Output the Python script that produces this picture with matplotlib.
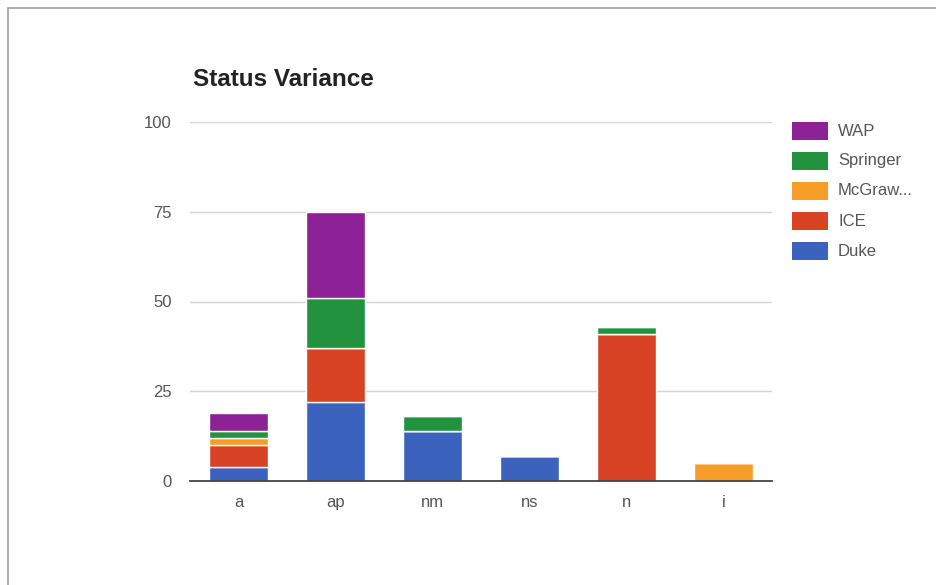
import matplotlib.pyplot as plt
import numpy as np
from matplotlib.patches import Rectangle

plt.rcParams['font.family'] = ['Liberation Sans', 'DejaVu Sans']

categories = ['a', 'ap', 'nm', 'ns', 'n', 'i']
series = ['Duke', 'ICE', 'McGraw...', 'Springer', 'WAP']
duke = [4, 22, 14, 7, 0, 0]
ice = [6, 15, 0, 0, 41, 0]
mcgraw = [2, 0, 0, 0, 0, 5]
springer = [2, 14, 4, 0, 2, 0]
wap = [5, 24, 0, 0, 0, 0]
colors = ['#3b63be', '#d84326', '#f59d26', '#23923e', '#8c2296']
yticks = [0, 25, 50, 75, 100]

W, H = 936, 585
fig = plt.figure(figsize=(W / 100, H / 100), dpi=100)
fig.patch.set_facecolor('white')

# outer frame of the page
fig.add_artist(Rectangle((8 / W, -0.01), 1.0, 1 - 8 / H + 0.01,
                         transform=fig.transFigure, fill=False,
                         edgecolor='#a0a0a0', linewidth=1.2))

ax = fig.add_axes([190 / W, 1 - 481 / H, 582 / W, 359 / H])
x = np.arange(len(categories))
bottom = np.zeros(len(categories))
for name, vals, c in zip(series, [duke, ice, mcgraw, springer, wap], colors):
    vals = np.array(vals, dtype=float)
    ax.bar(x, vals, 0.6, bottom=bottom, color=c, edgecolor='white',
           linewidth=1.0, zorder=3)
    bottom += vals

ax.set_xlim(-0.5, len(categories) - 0.5)
ax.set_ylim(0, 100)
ax.set_yticks(yticks)
ax.set_yticklabels([str(t) for t in yticks])
ax.set_xticks(x)
ax.set_xticklabels(categories)
ax.tick_params(length=0, labelsize=12, colors='#555555')
ax.tick_params(axis='y', pad=13)
ax.tick_params(axis='x', pad=10)
ax.yaxis.grid(True, color='#d4d4d4', linewidth=1, zorder=0)
ax.set_axisbelow(True)
for s in ['top', 'right', 'left']:
    ax.spines[s].set_visible(False)
ax.spines['bottom'].set_color('#444444')
ax.spines['bottom'].set_linewidth(1.3)
ax.spines['bottom'].set_zorder(4)

fig.text(193 / W, 1 - 80 / H, 'Status Variance', fontsize=17.5,
         fontweight='bold', color='#222222', va='center', ha='left')

# legend drawn top to bottom: WAP first
for i, (name, c) in enumerate(zip(series[::-1], colors[::-1])):
    yc = 131 + i * 30
    fig.add_artist(Rectangle((792 / W, 1 - (yc + 9) / H), 36 / W, 18 / H,
                             transform=fig.transFigure, facecolor=c,
                             edgecolor='none'))
    fig.text(838 / W, 1 - yc / H, name, fontsize=12, color='#555555',
             va='center', ha='left')

fig.savefig('out.png', dpi=100)
